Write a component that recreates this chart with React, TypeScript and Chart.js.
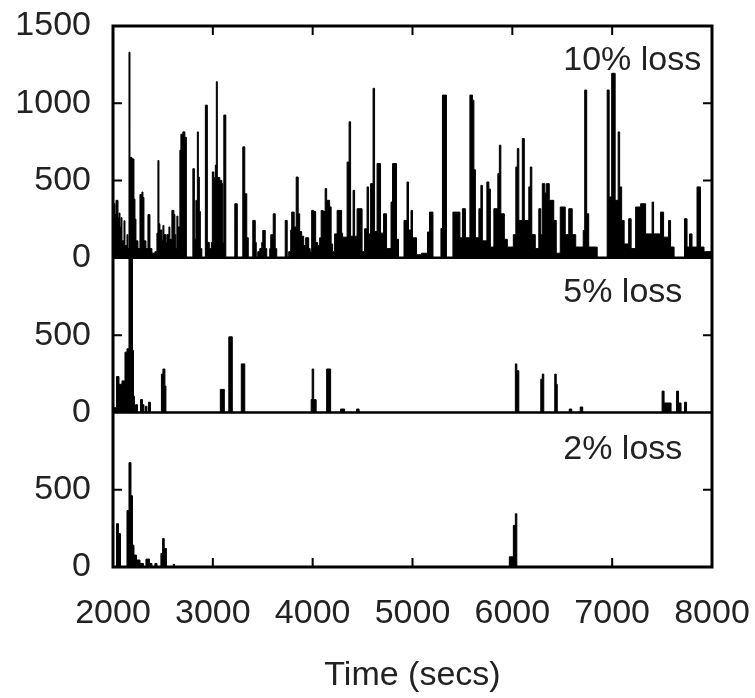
import React, { useEffect, useRef } from 'react';
import { Chart, registerables } from 'chart.js';

Chart.register(...registerables);

// x axis (time, seconds)
const xTickValues = [2000, 3000, 4000, 5000, 6000, 7000, 8000];

// 10% loss panel: step breakpoints (time, value held until next time)
const t10 = [
  2000, 2010, 2020, 2030, 2050, 2060, 2070, 2080, 2090, 2110, 2120, 2140, 2150, 2160, 2170, 2190,
  2210, 2220, 2230, 2250, 2270, 2290, 2300, 2310, 2330, 2350, 2370, 2390, 2420, 2440, 2450, 2460,
  2470, 2490, 2500, 2510, 2530, 2540, 2560, 2570, 2590, 2610, 2620, 2630, 2640, 2650, 2670, 2680,
  2700, 2720, 2735, 2800, 2815, 2830, 2845, 2855, 2865, 2875, 2890, 2925, 2945, 2965, 2985, 2995,
  3010, 3025, 3035, 3045, 3070, 3090, 3100, 3110, 3130, 3220, 3245, 3300, 3320, 3340, 3355, 3400,
  3425, 3435, 3450, 3470, 3490, 3500, 3525, 3540, 3570, 3580, 3605, 3625, 3640, 3725, 3745, 3760,
  3780, 3790, 3815, 3835, 3855, 3870, 3890, 3910, 3930, 3960, 3975, 3990, 4010, 4030, 4050, 4070,
  4085, 4105, 4125, 4140, 4170, 4185, 4200, 4220, 4245, 4290, 4300, 4345, 4365, 4380, 4405, 4420,
  4445, 4495, 4520, 4545, 4560, 4580, 4605, 4620, 4645, 4680, 4710, 4740, 4785, 4800, 4840, 4860,
  4915, 4945, 4960, 4985, 5000, 5040, 5090, 5150, 5170, 5205, 5285, 5300, 5340, 5405, 5475, 5500,
  5530, 5575, 5600, 5615, 5630, 5665, 5685, 5700, 5745, 5765, 5780, 5815, 5855, 5870, 5885, 5920,
  5950, 6010, 6035, 6050, 6065, 6100, 6120, 6165, 6180, 6195, 6230, 6265, 6285, 6300, 6325, 6340,
  6370, 6415, 6440, 6480, 6530, 6565, 6600, 6635, 6710, 6725, 6745, 6765, 6850, 6950, 6970, 6995,
  7030, 7060, 7075, 7095, 7120, 7165, 7190, 7235, 7285, 7335, 7400, 7415, 7485, 7515, 7565, 7585,
  7620, 7725, 7750, 7775, 7800, 7850, 7885, 7920, 8000,
];
const v10 = [
  180, 350, 280, 372, 260, 290, 200, 260, 110, 240, 80, 150, 60, 1330, 650, 640,
  380, 250, 110, 60, 410, 426, 390, 110, 60, 280, 60, 30, 40, 160, 630, 220,
  180, 110, 210, 150, 100, 150, 200, 120, 307, 280, 150, 60, 270, 200, 696, 800,
  815, 780, 0, 577, 120, 372, 815, 523, 300, 60, 0, 988, 100, 60, 100, 556,
  520, 600, 1140, 520, 500, 480, 100, 924, 0, 350, 0, 718, 415, 130, 0, 242,
  100, 0, 40, 60, 100, 177, 60, 0, 60, 150, 285, 60, 0, 242, 0, 40,
  180, 296, 200, 523, 285, 170, 140, 80, 130, 60, 40, 307, 300, 100, 80, 130,
  307, 300, 448, 372, 330, 90, 40, 155, 307, 160, 134, 620, 880, 140, 437, 140,
  318, 40, 188, 459, 155, 480, 1097, 170, 610, 160, 285, 60, 361, 610, 120, 0,
  242, 491, 180, 307, 130, 20, 30, 167, 296, 0, 190, 1053, 0, 296, 130, 318,
  130, 1053, 1020, 570, 130, 318, 469, 110, 491, 445, 70, 318, 545, 729, 285, 120,
  70, 150, 588, 707, 242, 772, 242, 459, 588, 150, 60, 318, 150, 480, 420, 480,
  372, 242, 30, 329, 150, 318, 150, 70, 177, 1086, 285, 70, 0, 1086, 394, 1194,
  372, 815, 459, 242, 90, 253, 60, 329, 350, 155, 361, 155, 296, 134, 242, 70,
  0, 253, 70, 155, 70, 459, 70, 40, 0,
];

// 5% loss panel
const t5 = [
  2000, 2035, 2060, 2090, 2120, 2140, 2160, 2195, 2205, 2215, 2225, 2245, 2275, 2295, 2310, 2325,
  2340, 2355, 2375, 2485, 2500, 2520, 2530, 3075, 3115, 3160, 3195, 3285, 3320, 3985, 3995, 4010,
  4035, 4140, 4180, 4280, 4320, 4440, 4465, 6030, 6045, 6065, 6285, 6300, 6315, 6425, 6440, 6450,
  6570, 6595, 6680, 6705, 7500, 7520, 7590, 7645, 7665, 7690, 7725, 7745, 8000,
];
const v5 = [
  30, 232, 182, 204, 390, 412, 1000, 401, 105, 0, 50, 0, 83, 50, 0, 40,
  0, 66, 0, 248, 281, 171, 0, 149, 0, 489, 0, 314, 0, 83, 281, 83,
  0, 281, 0, 22, 0, 22, 0, 314, 270, 0, 215, 248, 0, 248, 182, 0,
  22, 0, 35, 0, 138, 61, 0, 138, 61, 0, 66, 0, 0,
];

// 2% loss panel
const t2 = [
  2000, 2035, 2055, 2075, 2140, 2160, 2180, 2195, 2210, 2235, 2270, 2305, 2330, 2365, 2390, 2420,
  2440, 2480, 2497, 2513, 2535, 2603, 2617, 5970, 6010, 6030, 6045, 8000,
];
const v2 = [
  0, 280, 216, 0, 365, 675, 461, 141, 77, 45, 23, 0, 51, 23, 0, 23,
  0, 88, 184, 120, 0, 17, 0, 66, 269, 344, 0, 0,
];

const panelLabels = ['10% loss', '5% loss', '2% loss'];
const panelLabelTime = 6510;
const panelLabelValues = [1213, 717, 699];

const FONT = '"Liberation Sans", Arial, Helvetica, sans-serif';
const TEXT = '#222';

function toPoints(ts: number[], vs: number[]) {
  return ts.map((t, i) => ({ x: t, y: vs[i] }));
}

export default function App() {
  const ref = useRef<HTMLCanvasElement>(null);

  useEffect(() => {
    const canvas = ref.current;
    if (!canvas) return;

    const framePlugin = {
      id: 'frame',
      afterDatasetsDraw(chart: any) {
        const { ctx, chartArea: a, scales } = chart;
        const x = scales.x;
        const panels = [scales.yTop, scales.yMid, scales.yBot];
        ctx.save();
        ctx.strokeStyle = '#000';
        ctx.lineWidth = 2.5;
        [scales.yTop, scales.yMid].forEach((s: any) => {
          const py = s.getPixelForValue(0);
          ctx.beginPath();
          ctx.moveTo(a.left, py);
          ctx.lineTo(a.right, py);
          ctx.stroke();
        });
        ctx.lineWidth = 2;
        const len = 9;
        xTickValues.slice(1, -1).forEach((v) => {
          const px = x.getPixelForValue(v);
          ctx.beginPath();
          ctx.moveTo(px, a.top);
          ctx.lineTo(px, a.top + len);
          ctx.moveTo(px, a.bottom);
          ctx.lineTo(px, a.bottom - len);
          ctx.stroke();
        });
        const yt: [any, number][] = [
          [scales.yTop, 500], [scales.yTop, 1000], [scales.yMid, 500], [scales.yBot, 500],
        ];
        yt.forEach(([s, v]) => {
          const py = s.getPixelForValue(v);
          ctx.beginPath();
          ctx.moveTo(a.left, py);
          ctx.lineTo(a.left + len, py);
          ctx.moveTo(a.right, py);
          ctx.lineTo(a.right - len, py);
          ctx.stroke();
        });
        ctx.lineWidth = 3;
        ctx.strokeRect(a.left, a.top, a.right - a.left, a.bottom - a.top);
        ctx.fillStyle = TEXT;
        ctx.font = `34px ${FONT}`;
        ctx.textAlign = 'left';
        ctx.textBaseline = 'alphabetic';
        panels.forEach((s: any, i: number) => {
          ctx.fillText(panelLabels[i], x.getPixelForValue(panelLabelTime), s.getPixelForValue(panelLabelValues[i]));
        });
        ctx.restore();
      },
    };

    const ds = (label: string, ts: number[], vs: number[], axis: string) => ({
      label,
      data: toPoints(ts, vs),
      yAxisID: axis,
      stepped: 'before' as const,
      fill: 'origin',
      borderColor: '#000',
      backgroundColor: '#000',
      borderWidth: 1,
      pointRadius: 0,
    });

    const tickFont = { family: FONT, size: 34 };
    const yCommon = (max: number, weight: number, stackWeight: number, hideTop: boolean) => ({
      type: 'linear' as const,
      position: 'left' as const,
      stack: 'panels',
      stackWeight,
      weight,
      min: 0,
      max,
      grid: { display: false },
      border: { display: false },
      ticks: {
        stepSize: 500,
        font: tickFont,
        color: TEXT,
        padding: 14,
        callback: (v: any) => (hideTop && v === max ? null : String(v)),
      },
      afterFit: (s: any) => {
        s.width = 113;
        s.paddingTop = 0;
        s.paddingBottom = 0;
      },
    });

    const chart = new Chart(canvas, {
      type: 'line',
      data: {
        datasets: [
          ds(panelLabels[0], t10, v10, 'yTop'),
          ds(panelLabels[1], t5, v5, 'yMid'),
          ds(panelLabels[2], t2, v2, 'yBot'),
        ] as any,
      },
      options: {
        responsive: false,
        animation: false,
        layout: { padding: { top: 26, right: 43, left: 0, bottom: 0 } },
        plugins: { legend: { display: false }, tooltip: { enabled: false } },
        scales: {
          x: {
            type: 'linear',
            position: 'bottom',
            min: 2000,
            max: 8000,
            grid: { display: false },
            border: { display: false },
            ticks: {
              stepSize: 1000,
              font: tickFont,
              color: TEXT,
              padding: 18,
              maxRotation: 0,
              autoSkip: false,
              callback: (v: any) => String(v),
            },
            title: {
              display: true,
              text: 'Time (secs)',
              font: tickFont,
              color: TEXT,
              padding: { top: 0, bottom: 2 },
            },
            afterFit: (s: any) => {
              s.height = 131;
              s.paddingLeft = 0;
              s.paddingRight = 0;
            },
          },
          yTop: yCommon(1500, 3, 1.5, false),
          yMid: yCommon(1000, 2, 1, true),
          yBot: yCommon(1000, 1, 1, true),
        } as any,
      },
      plugins: [framePlugin],
    });

    return () => chart.destroy();
  }, []);

  return (
    <div style={{ position: 'absolute', left: 0, top: 0, width: 755, height: 698, background: '#fff' }}>
      <canvas ref={ref} width={755} height={698} style={{ display: 'block' }} />
    </div>
  );
}
